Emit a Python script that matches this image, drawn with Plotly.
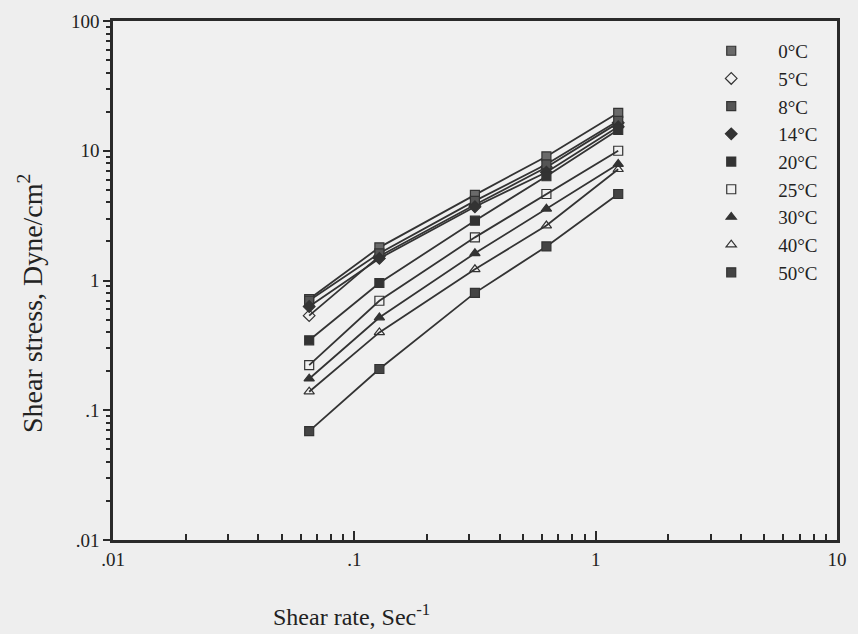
import plotly.graph_objects as go

shear_rate = [0.065, 0.127, 0.316, 0.625, 1.24]

temps = ["0°C", "5°C", "8°C", "14°C", "20°C", "25°C", "30°C", "40°C", "50°C"]
stress_0 = [0.72, 1.80, 4.57, 9.04, 19.6]
stress_5 = [0.536, 1.54, 3.83, 7.46, 16.4]
stress_8 = [0.70, 1.62, 4.11, 7.86, 17.0]
stress_14 = [0.63, 1.48, 3.70, 6.83, 15.3]
stress_20 = [0.346, 0.957, 2.89, 6.36, 14.5]
stress_25 = [0.223, 0.698, 2.15, 4.64, 10.0]
stress_30 = [0.175, 0.518, 1.62, 3.57, 7.9]
stress_40 = [0.139, 0.398, 1.22, 2.65, 7.2]
stress_50 = [0.069, 0.208, 0.803, 1.83, 4.64]
series = [stress_0, stress_5, stress_8, stress_14, stress_20,
          stress_25, stress_30, stress_40, stress_50]

symbols = ["square", "diamond-open", "square", "diamond", "square",
           "square-open", "triangle-up", "triangle-up-open", "square"]
fills = ["#6a6a6a", "#333333", "#555555", "#333333", "#333333",
         "#333333", "#333333", "#333333", "#444444"]

SERIF = "Liberation Serif"
fig = go.Figure()
for name, vals, sym, col in zip(temps, series, symbols, fills):
    fig.add_trace(go.Scatter(
        x=shear_rate, y=vals, mode="lines", showlegend=False,
        line=dict(color="#333333", width=1.8), hoverinfo="skip",
    ))
    fig.add_trace(go.Scatter(
        x=shear_rate, y=vals, name=name, mode="markers",
        marker=dict(symbol=sym, size=9, color=col,
                    line=dict(color="#333333", width=1.2)),
    ))

axis_common = dict(
    type="log", showgrid=False, zeroline=False, showline=True,
    linecolor="#2a2a2a", linewidth=2.5, mirror=True,
    dtick=1, tickcolor="#2a2a2a", tickwidth=2,
    tickfont=dict(family=SERIF, size=19, color="#222222"),
    labelalias={"0.01": ".01", "0.1": ".1"},
)
fig.update_xaxes(**axis_common, range=[-2, 1], ticks="inside", ticklen=9,
                 minor=dict(dtick="D1", ticks="inside", ticklen=6,
                            tickcolor="#2a2a2a", tickwidth=2))
fig.update_yaxes(**axis_common, range=[-2, 2], ticks="outside", ticklen=7,
                 minor=dict(dtick="D1", ticks="outside", ticklen=4,
                            tickcolor="#2a2a2a", tickwidth=2))

fig.add_annotation(text="Shear rate, Sec<sup>-1</sup>", xref="paper", yref="paper",
                   x=0.33, y=-0.178, xanchor="center", yanchor="bottom",
                   showarrow=False,
                   font=dict(family=SERIF, size=24, color="#222222"))
fig.add_annotation(text="Shear stress, Dyne/cm<sup>2</sup>", xref="paper", yref="paper",
                   x=-0.113, y=0.455, xanchor="center", yanchor="middle",
                   textangle=-90, showarrow=False,
                   font=dict(family=SERIF, size=28, color="#222222"))

fig.update_layout(
    width=858, height=634,
    margin=dict(l=113, r=11, t=15, b=94),
    paper_bgcolor="#eeeeee", plot_bgcolor="#f0f0f0",
    showlegend=True,
    legend=dict(x=0.789, y=0.979, xanchor="left", yanchor="top",
                bgcolor="rgba(0,0,0,0)", itemwidth=84,
                font=dict(family=SERIF, size=19, color="#222222")),
)

fig.write_html("out.html", config={"displayModeBar": False},
               post_script="document.body.style.margin='0';"
                           "document.body.style.overflow='hidden';")
